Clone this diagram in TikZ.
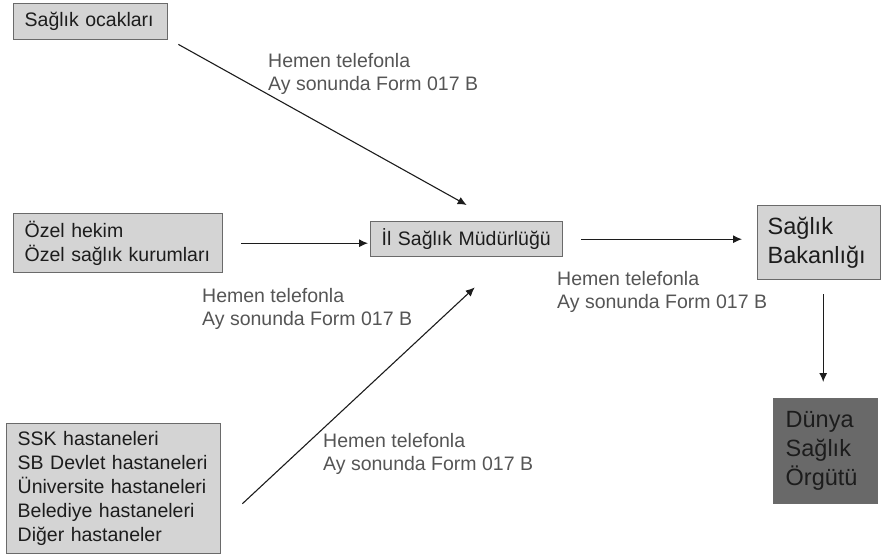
\documentclass[tikz,border=0pt]{standalone}
\usepackage{fontspec}
\setmainfont{Liberation Sans}
\usetikzlibrary{positioning, arrows.meta}

\definecolor{boxfill}{HTML}{D4D4D4}
\definecolor{boxline}{HTML}{6A6A6A}
\definecolor{boxtext}{HTML}{1C1C1C}
\definecolor{notetext}{HTML}{555555}
\definecolor{whofill}{HTML}{696969}

\begin{document}
\begin{tikzpicture}[x=1pt, y=-1pt,
    box/.style={draw=boxline, fill=boxfill, line width=1.4pt, anchor=north west, align=left,
        inner xsep=11pt, inner ysep=0pt, text=boxtext, font=\fontsize{19.5}{24}\selectfont},
    bigbox/.style={box, font=\fontsize{23.5}{29}\selectfont},
    note/.style={anchor=north west, align=left, inner sep=0pt, text=notetext,
        font=\fontsize{19.5}{23}\selectfont},
    flow/.style={draw=boxtext, line width=1.1pt, -{Latex[length=9pt, width=8pt]}}]

    \useasboundingbox (0,0) rectangle (882,558);

    \node[box, text width=132pt, minimum height=36pt] (ocak) at (13,3) {Sağlık ocakları};
    \node[box, text width=187pt, minimum height=59pt] (ozel) at (13,213) {Özel hekim\\Özel sağlık kurumları};
    \node[box, text width=192pt, minimum height=130pt] (hast) at (6,423) {SSK hastaneleri\\SB Devlet hastaneleri\\Üniversite hastaneleri\\Belediye hastaneleri\\Diğer hastaneler};
    \node[box, text width=170pt, minimum height=35pt] (il) at (370,221) {İl Sağlık Müdürlüğü};
    \node[bigbox, inner xsep=10pt, text width=103pt, minimum height=74pt] (bak) at (757,205) {Sağlık\\Bakanlığı};
    \node[bigbox, fill=whofill, inner xsep=12pt, text width=80pt, minimum height=105pt] (dso) at (773,398) {Dünya\\Sağlık\\Örgütü};

    \node[note] (n1) at (268,53) {Hemen telefonla\\Ay sonunda Form 017 B};
    \node[note] (n2) at (202,288) {Hemen telefonla\\Ay sonunda Form 017 B};
    \node[note] (n3) at (557,271) {Hemen telefonla\\Ay sonunda Form 017 B};
    \node[note] (n4) at (323,433) {Hemen telefonla\\Ay sonunda Form 017 B};

    \draw[flow] ([xshift=10pt, yshift=-4pt]ocak.south east) -- ([yshift=16pt]il.north);
    \draw[flow] ([xshift=18pt]ozel.east) -- ([xshift=-2pt]il.west |- ozel.east);
    \draw[flow] ([xshift=21pt, yshift=-15pt]hast.east) -- ([xshift=8pt, yshift=-30pt]il.south);
    \draw[flow] ([xshift=18pt]il.east) -- ([xshift=-15pt]il.east -| bak.west);
    \draw[flow] ([xshift=4pt, yshift=-14pt]bak.south) -- ([xshift=4pt, yshift=16pt]bak.south |- dso.north);

\end{tikzpicture}
\end{document}
